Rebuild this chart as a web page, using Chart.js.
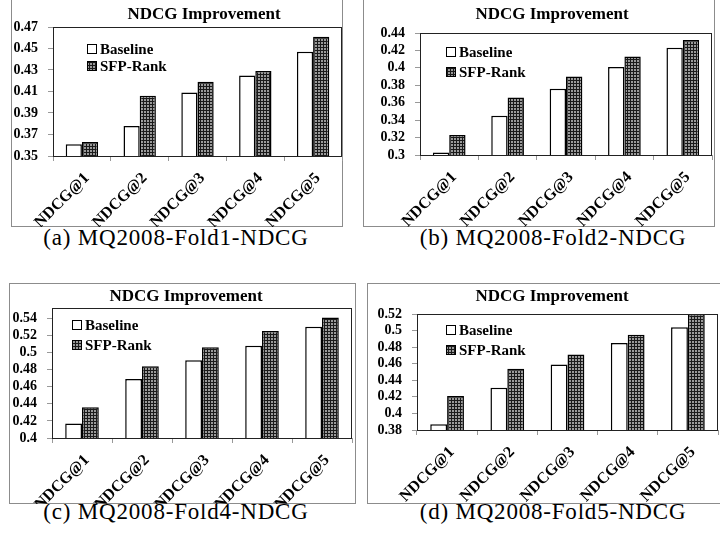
<!DOCTYPE html>
<html>
<head>
<meta charset="utf-8">
<script src="https://cdn.jsdelivr.net/npm/chart.js@4.4.1/dist/chart.umd.min.js"></script>
<style>
body { margin: 0; background: #fff; width: 720px; height: 550px; position: relative; overflow: hidden; }
.box { position: absolute; border: 1px solid #8c8c8c; box-sizing: border-box; }
canvas.panel { position: absolute; }
.caption { position: absolute; font-family: 'Liberation Serif', serif; font-size: 23px; letter-spacing: 0.8px; transform: translate(-50%, -50%); white-space: nowrap; color: #000; }
</style>
</head>
<body>
<div class="caption" style="left:176px; top:238px">(a) MQ2008-Fold1-NDCG</div>
<div class="caption" style="left:553px; top:238px">(b) MQ2008-Fold2-NDCG</div>
<div class="caption" style="left:176px; top:512px">(c) MQ2008-Fold4-NDCG</div>
<div class="caption" style="left:553px; top:512px">(d) MQ2008-Fold5-NDCG</div>
<script>
// data
const categories = ['NDCG@1', 'NDCG@2', 'NDCG@3', 'NDCG@4', 'NDCG@5'];
const seriesNames = ['Baseline', 'SFP-Rank'];

const fold1Baseline = [0.361, 0.378, 0.409, 0.425, 0.447];
const fold1Sfp = [0.363, 0.406, 0.419, 0.429, 0.461];
const fold2Baseline = [0.303, 0.345, 0.376, 0.401, 0.423];
const fold2Sfp = [0.323, 0.366, 0.390, 0.413, 0.432];
const fold4Baseline = [0.417, 0.469, 0.491, 0.508, 0.530];
const fold4Sfp = [0.436, 0.484, 0.506, 0.525, 0.541];
const fold5Baseline = [0.387, 0.431, 0.459, 0.485, 0.504];
const fold5Sfp = [0.421, 0.454, 0.471, 0.495, 0.520];

const fold1Ticks = [0.35, 0.37, 0.39, 0.41, 0.43, 0.45, 0.47];
const fold2Ticks = [0.30, 0.32, 0.34, 0.36, 0.38, 0.40, 0.42, 0.44];
const fold4Ticks = [0.40, 0.42, 0.44, 0.46, 0.48, 0.50, 0.52, 0.54];
const fold5Ticks = [0.38, 0.40, 0.42, 0.44, 0.46, 0.48, 0.50, 0.52];
const fold4AxisMax = 0.552;

const chartTitle = 'NDCG Improvement';
const FONT = '"Liberation Serif"';

// layout of each panel on the page
const panels = [
    { base: fold1Baseline, sfp: fold1Sfp, ticks: fold1Ticks, yMax: 0.47,
      box: { x: 11, y: -1, w: 332, h: 228 }, plot: { l: 53, t: 27, r: 342, b: 156 },
      title: { x: 204, y: 15 }, legend: { x: 34, y: 22, gap: 17 } },
    { base: fold2Baseline, sfp: fold2Sfp, ticks: fold2Ticks, yMax: 0.44,
      box: { x: 363, y: -1, w: 352, h: 228 }, plot: { l: 420, t: 33, r: 712, b: 155 },
      title: { x: 552, y: 15 }, legend: { x: 26, y: 19, gap: 20 } },
    { base: fold4Baseline, sfp: fold4Sfp, ticks: fold4Ticks, yMax: fold4AxisMax,
      box: { x: 9, y: 283, w: 347, h: 221 }, plot: { l: 52, t: 308, r: 352, b: 438 },
      title: { x: 186, y: 297 }, legend: { x: 20, y: 17, gap: 20 } },
    { base: fold5Baseline, sfp: fold5Sfp, ticks: fold5Ticks, yMax: 0.52,
      box: { x: 367, y: 283, w: 360, h: 221 }, plot: { l: 417, t: 314, r: 718, b: 430 },
      title: { x: 552, y: 297 }, legend: { x: 29, y: 16, gap: 20 } }
];

function makePattern() {
    const c = document.createElement('canvas');
    c.width = 3;
    c.height = 3;
    const g = c.getContext('2d');
    g.fillStyle = '#1a1a1a';
    g.fillRect(0, 0, 3, 3);
    g.fillStyle = '#9a9a9a';
    g.fillRect(1, 1, 2, 2);
    return g.createPattern(c, 'repeat');
}

// plot area border + title
const frame = {
    id: 'frame',
    afterDatasetsDraw(chart, args, opts) {
        const ctx = chart.ctx;
        const a = chart.chartArea;
        ctx.save();
        ctx.strokeStyle = '#222';
        ctx.lineWidth = 1;
        ctx.strokeRect(Math.round(a.left) + 0.5, Math.round(a.top) + 0.5,
            Math.round(a.right - a.left) - 1, Math.round(a.bottom - a.top));
        ctx.fillStyle = '#000';
        ctx.font = 'bold 17px ' + FONT;
        ctx.textAlign = 'center';
        ctx.textBaseline = 'middle';
        ctx.fillText(opts.text, opts.x, opts.y);
        ctx.restore();
    }
};

// legend drawn inside the plot area, upper left
const insideLegend = {
    id: 'insideLegend',
    afterDraw(chart, args, opts) {
        const ctx = chart.ctx;
        const a = chart.chartArea;
        ctx.save();
        ctx.font = 'bold 15px ' + FONT;
        ctx.textBaseline = 'middle';
        chart.data.datasets.forEach((ds, i) => {
            const x = Math.round(a.left + opts.x);
            const y = Math.round(a.top + opts.y + i * opts.gap);
            ctx.fillStyle = ds.backgroundColor;
            ctx.fillRect(x, y - 5, 10, 10);
            ctx.strokeStyle = '#000';
            ctx.lineWidth = 1;
            ctx.strokeRect(x + 0.5, y - 4.5, 9, 9);
            ctx.fillStyle = '#000';
            ctx.fillText(ds.label, x + 13, y + 1);
        });
        ctx.restore();
    }
};

function fmt(v) {
    return String(Number(v.toFixed(2)));
}

function drawPanel(p) {
    const box = document.createElement('div');
    box.className = 'box';
    Object.assign(box.style, { left: p.box.x + 'px', top: p.box.y + 'px', width: p.box.w + 'px', height: p.box.h + 'px' });
    document.body.appendChild(box);

    const canvas = document.createElement('canvas');
    canvas.className = 'panel';
    canvas.width = p.box.w;
    canvas.height = p.box.h;
    Object.assign(canvas.style, { left: p.box.x + 'px', top: p.box.y + 'px' });
    document.body.appendChild(canvas);

    const l = p.plot.l - p.box.x, t = p.plot.t - p.box.y;
    const r = p.plot.r - p.box.x, b = p.plot.b - p.box.y;
    const pattern = makePattern();

    new Chart(canvas.getContext('2d'), {
        type: 'bar',
        data: {
            labels: categories,
            datasets: [{
                label: seriesNames[0],
                data: p.base,
                backgroundColor: '#fff',
                borderColor: '#000',
                borderWidth: 1.5,
                categoryPercentage: 0.56,
                barPercentage: 1
            }, {
                label: seriesNames[1],
                data: p.sfp,
                backgroundColor: pattern,
                borderColor: '#000',
                borderWidth: 1.5,
                categoryPercentage: 0.56,
                barPercentage: 1
            }]
        },
        options: {
            responsive: false,
            animation: false,
            devicePixelRatio: 1,
            layout: { padding: { left: 0, top: t, right: p.box.w - r, bottom: 0 } },
            plugins: {
                legend: { display: false },
                title: { display: false },
                tooltip: { enabled: false },
                frame: { text: chartTitle, x: p.title.x - p.box.x, y: p.title.y - p.box.y },
                insideLegend: p.legend
            },
            scales: {
                x: {
                    grid: { display: true, drawOnChartArea: false, color: '#999', tickLength: 5, offset: true },
                    border: { display: false },
                    ticks: {
                        color: '#000',
                        font: { family: FONT, size: 16, weight: 'bold' },
                        minRotation: 45,
                        maxRotation: 45,
                        autoSkip: false,
                        labelOffset: 5,
                        padding: 8
                    },
                    afterFit(s) { s.height = p.box.h - b; }
                },
                y: {
                    min: p.ticks[0],
                    max: p.yMax,
                    grid: { drawOnChartArea: false, color: '#999', tickLength: 5 },
                    border: { display: false },
                    ticks: {
                        color: '#000',
                        font: { family: FONT, size: 14, weight: 'bold', lineHeight: 1 },
                        padding: 10,
                        autoSkip: false,
                        callback: v => fmt(v)
                    },
                    afterBuildTicks(s) { s.ticks = p.ticks.map(v => ({ value: v })); },
                    afterFit(s) { s.width = l; }
                }
            }
        },
        plugins: [frame, insideLegend]
    });
}

Promise.all([
    document.fonts.load('bold 15px "Liberation Serif"'),
    document.fonts.load('15px "Liberation Serif"')
]).catch(() => {}).then(() => panels.forEach(drawPanel));
</script>
</body>
</html>
